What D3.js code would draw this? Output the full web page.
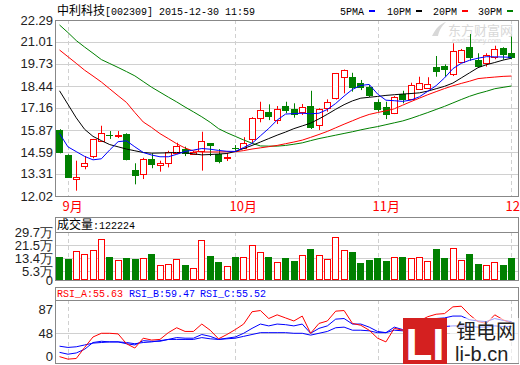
<!DOCTYPE html>
<html>
<head>
<meta charset="utf-8">
<script src="https://cdn.jsdelivr.net/npm/d3@7"></script>
<style>
body { margin: 0; background: #fff; }
text { font-family: "Liberation Sans", Arial, sans-serif; }
</style>
</head>
<body>
<script>
var title = '中利科技';
var titleInfo = '[002309] 2015-12-30 11:59';

var opens  = [15.87,14.41,12.99,13.77,14.34,15.23,15.60,15.56,15.64,13.54,13.30,14.16,13.83,13.93,14.57,14.74,14.51,14.66,15.10,14.47,14.26,14.84,14.80,15.35,16.55,16.90,16.41,17.27,17.10,16.94,17.27,16.16,17.14,17.70,18.95,18.95,18.60,18.40,17.52,17.20,16.85,17.97,17.70,18.30,18.30,19.57,19.61,19.12,19.86,20.70,19.98,19.80,20.11,20.64,20.35];
var highs  = [15.92,14.45,14.08,14.35,15.35,16.12,15.81,15.81,15.68,13.93,14.25,14.51,14.08,14.66,15.13,14.90,14.65,15.77,15.10,14.76,14.51,14.99,15.45,16.62,17.52,17.37,17.27,17.52,17.43,17.39,18.16,17.14,17.66,19.20,19.40,19.21,18.79,18.50,17.66,17.52,17.85,18.16,18.63,18.98,18.95,20.19,19.70,20.93,20.60,21.47,20.35,20.35,20.79,20.70,21.32];
var lows   = [14.51,13.09,12.33,13.58,14.22,15.20,15.35,15.40,14.10,12.70,13.01,13.64,13.44,13.69,14.55,14.35,14.45,13.50,14.35,13.93,14.06,14.66,14.78,15.10,16.32,16.45,16.22,16.85,16.59,16.75,15.93,15.87,16.94,17.65,18.01,18.11,18.20,17.80,16.94,16.51,16.80,17.43,17.68,18.28,18.28,18.98,18.98,19.02,19.80,19.92,19.55,19.57,20.00,19.98,20.00];
var closes = [14.51,13.09,13.11,13.93,15.35,15.68,15.56,15.60,14.12,13.19,14.20,13.79,13.96,14.57,14.96,14.45,14.60,15.25,14.90,14.02,14.30,14.80,15.10,16.59,17.04,16.59,17.08,17.00,16.75,17.23,15.97,17.08,17.49,19.18,19.37,18.30,18.30,17.86,17.04,16.75,17.81,17.62,18.50,18.63,18.56,19.27,19.37,20.48,20.54,20.06,19.59,20.25,20.58,20.25,20.06];

var ma5  = [15.67,14.89,14.61,14.33,14.13,14.19,14.71,15.19,15.24,14.89,14.56,14.41,14.31,14.31,14.45,14.62,14.70,14.79,14.75,14.68,14.63,14.62,14.85,15.09,15.53,15.96,16.45,16.80,16.83,16.85,16.82,16.85,17.07,17.42,17.85,18.24,18.47,18.53,17.97,17.61,17.58,17.54,17.62,17.81,18.13,18.46,18.91,19.45,19.76,19.94,20.06,20.15,20.14,20.13,20.11];
var ma10 = [18.16,17.37,16.58,15.91,15.50,15.25,15.02,14.89,14.76,14.66,14.56,14.52,14.53,14.54,14.56,14.54,14.48,14.42,14.44,14.47,14.50,14.62,14.79,14.97,15.17,15.37,15.57,15.75,15.95,16.11,16.27,16.52,16.79,17.08,17.35,17.57,17.73,17.78,17.83,17.89,17.93,17.97,18.00,18.04,18.14,18.28,18.42,18.61,18.91,19.21,19.51,19.68,19.81,19.95,20.06];
var ma20 = [20.54,20.15,19.76,19.36,19.02,18.67,18.27,17.87,17.48,16.89,16.34,16.02,15.66,15.37,15.07,14.82,14.65,14.59,14.59,14.59,14.60,14.60,14.67,14.76,14.83,14.90,14.97,15.07,15.17,15.28,15.44,15.61,15.79,16.00,16.21,16.41,16.61,16.78,16.89,16.99,17.11,17.32,17.53,17.73,17.93,18.11,18.29,18.45,18.59,18.72,18.87,18.92,18.96,19.00,19.02];
var ma30 = [22.00,21.56,21.09,20.71,20.35,19.98,19.75,19.52,19.28,19.03,18.70,18.37,18.08,17.79,17.51,17.21,16.93,16.64,16.32,15.95,15.71,15.50,15.29,15.10,14.94,14.93,14.93,14.97,15.04,15.12,15.25,15.37,15.47,15.57,15.67,15.77,15.88,15.98,16.07,16.18,16.29,16.40,16.55,16.72,16.89,17.07,17.25,17.45,17.65,17.84,18.00,18.13,18.28,18.36,18.44];

// 成交量, 万
var vols = [14.4,13.2,18.0,16.1,18.6,25.4,14.4,12.4,13.8,13.2,13.6,16.3,9.3,9.9,13.0,9.5,7.4,24.8,15.0,11.3,8.7,14.4,14.2,21.7,17.3,14.4,11.0,13.8,11.9,15.5,19.4,15.5,13.2,26.6,18.6,17.5,10.7,12.6,13.8,11.9,14.2,14.4,13.6,14.2,11.8,19.4,13.8,19.8,12.4,16.3,10.1,9.3,11.0,9.5,13.8];

var rsiA = [10,6,7,25,42,48,48,47,31,24,40,37,38,49,57,51,51,63,53,39,46,54,63,83,85,72,78,73,68,76,48,64,68,84,85,64,61,53,40,34,56,53,60,68,75,79,80,91,92,78,67,64,78,70,64];
var rsiB = [17,14,16,22,33,35,34,34,31,29,36,35,35,38,41,40,40,46,43,38,40,42,48,56,63,60,63,62,60,63,48,56,60,71,72,63,63,58,51,49,58,54,60,64,68,72,73,76,76,70,68,67,72,69,67];
var rsiC = [27,25,26,29,32,33,34,34,33,31,33,34,36,38,38,38,38,41,39,38,39,40,43,46,49,49,49,49,48,48,45,48,51,57,58,53,53,52,49,49,53,52,54,56,57,58,59,60,60,59,58,58,60,59,59];

var priceTicks = [22.29,21.01,19.73,18.44,17.16,15.87,14.59,13.31,12.02];
var volTicks = [29.7,21.5,13.4,5.3,0];
var rsiTicks = [87,48,0];
var monthLabels = ['9月','10月','11月','12月'];
var monthIdx = [1,21,38,54];

var RED = '#ff0000', GREEN = '#008000', BLUE = '#0000ff', GRID = '#d0d0d0', FRAME = '#888';
var L = 55, R = 519;

var svg = d3.select('body').append('svg').attr('width', 520).attr('height', 365);

var x = d3.scaleBand().domain(d3.range(opens.length)).range([54.5, 516.5]).padding(0.2);
var cx = function(i) { return x(i) + x.bandwidth() / 2; };
var px = function(v) { return Math.round(v) + 0.5; };

var yP = d3.scaleLinear().domain([12.02, 22.29]).range([196, 20]);
var yV = d3.scaleLinear().domain([0, 29.7]).range([280, 232]);
var yR = d3.scaleLinear().domain([0, 87]).range([362.8, 309.3]);

// header
var head = svg.append('text').attr('x', 57).attr('y', 15).attr('font-size', 12).attr('fill', '#000');
head.append('tspan').style('font-family', '"Noto Sans CJK SC"').text(title);
head.append('tspan').style('font-family', '"Liberation Mono", monospace').attr('font-size', 10).text(titleInfo);

var legend = [['5PMA', BLUE, 340], ['10PM', '#000', 387], ['20PM', RED, 433], ['30PM', GREEN, 478]];
legend.forEach(function(d) {
  svg.append('text').attr('x', d[2]).attr('y', 15).attr('font-size', 10)
    .style('font-family', '"Liberation Mono", monospace').text(d[0]);
  svg.append('rect').attr('x', d[2] + 29).attr('y', 10).attr('width', 6).attr('height', 2).attr('fill', d[1]);
});

// watermark
var wm = svg.append('g').attr('fill', '#d8d8d8');
wm.append('path').attr('d', 'M432,36 C436,28 440,24 446,22 C441,27 439,31 438,36 Z');
wm.append('text').attr('x', 448).attr('y', 35).attr('font-size', 13)
  .style('font-family', '"Noto Sans CJK SC"').text('东方财富网');
wm.append('text').attr('x', 452).attr('y', 43).attr('font-size', 7).text('eastmoney.com');

// grids
var gridH = function(scale, ticks) {
  svg.append('g').selectAll('line').data(ticks).enter().append('line')
    .attr('x1', L).attr('x2', R)
    .attr('y1', function(d) { return px(scale(d)); })
    .attr('y2', function(d) { return px(scale(d)); })
    .attr('stroke', GRID);
};
gridH(yP, priceTicks.slice(1, -1));
gridH(yV, volTicks.slice(1, -1));
gridH(yR, [48]);

var gridV = function(y1, y2) {
  svg.append('g').selectAll('line').data(monthIdx).enter().append('line')
    .attr('x1', function(d) { return px(cx(d)); })
    .attr('x2', function(d) { return px(cx(d)); })
    .attr('y1', y1).attr('y2', y2)
    .attr('stroke', GRID).attr('stroke-dasharray', '4,3');
};
gridV(20, 196);
gridV(232, 280);
gridV(300, 364);

// frames
var frame = function(y1, y2, sep) {
  svg.append('rect').attr('x', L + 0.5).attr('y', y1 + 0.5).attr('width', R - L - 1).attr('height', y2 - y1)
    .attr('fill', 'none').attr('stroke', FRAME);
  if (sep) svg.append('line').attr('x1', L).attr('x2', R).attr('y1', sep + 0.5).attr('y2', sep + 0.5).attr('stroke', FRAME);
};
frame(20, 196);
frame(217, 280, 232);
frame(287, 363, 300);

// axis labels
var yLabels = function(scale, ticks, fmt) {
  svg.append('g').selectAll('text').data(ticks).enter().append('text')
    .attr('x', 53).attr('y', function(d) { return Math.min(scale(d), 356); })
    .attr('dy', '0.35em').attr('text-anchor', 'end').attr('font-size', 13).attr('fill', '#222')
    .text(fmt);
};
yLabels(yP, priceTicks, function(d) { return d.toFixed(2); });
yLabels(yV, volTicks, function(d) { return d === 0 ? '0' : d + '万'; });
yLabels(yR, rsiTicks, function(d) { return d; });

svg.append('g').selectAll('text').data(monthIdx).enter().append('text')
  .attr('x', function(d) { return px(cx(d)) - 6; }).attr('y', 211)
  .attr('font-size', 13).attr('fill', RED).style('font-family', '"Noto Sans CJK SC"')
  .text(function(d, i) { return monthLabels[i]; });

// candles
var up = function(i) { return closes[i] >= opens[i]; };
var candles = svg.append('g').selectAll('g').data(opens).enter().append('g');
candles.append('line')
  .attr('x1', function(d, i) { return px(cx(i)); })
  .attr('x2', function(d, i) { return px(cx(i)); })
  .attr('y1', function(d, i) { return yP(highs[i]); })
  .attr('y2', function(d, i) { return yP(lows[i]); })
  .attr('stroke', function(d, i) { return up(i) ? RED : GREEN; });
candles.append('rect')
  .attr('x', function(d, i) { return up(i) ? px(x(i)) : Math.round(x(i)); })
  .attr('y', function(d, i) { return Math.round(yP(Math.max(opens[i], closes[i]))) + (up(i) ? 0.5 : 0); })
  .attr('width', function(d, i) { return up(i) ? 6 : 7; })
  .attr('height', function(d, i) { return Math.max(1, Math.round(Math.abs(yP(opens[i]) - yP(closes[i])))); })
  .attr('fill', function(d, i) { return up(i) ? '#fff' : GREEN; })
  .attr('stroke', function(d, i) { return up(i) ? RED : 'none'; });

// moving averages
var priceLine = d3.line().x(function(d, i) { return cx(i); }).y(function(d) { return yP(d); });
[[ma30, GREEN], [ma20, RED], [ma10, '#000'], [ma5, BLUE]].forEach(function(m) {
  svg.append('path').attr('d', priceLine(m[0])).attr('fill', 'none').attr('stroke', m[1]).attr('stroke-width', 1);
});

// volume
var vHead = svg.append('text').attr('x', 57).attr('y', 229).attr('font-size', 12);
vHead.append('tspan').style('font-family', '"Noto Sans CJK SC"').text('成交量');
vHead.append('tspan').style('font-family', '"Liberation Mono", monospace').attr('font-size', 10).text(':122224');

svg.append('g').selectAll('rect').data(vols).enter().append('rect')
  .attr('x', function(d, i) { return up(i) ? px(x(i)) : Math.round(x(i)); })
  .attr('y', function(d, i) { return Math.round(yV(d)) + (up(i) ? 0.5 : 0); })
  .attr('width', function(d, i) { return up(i) ? 6 : 7; })
  .attr('height', function(d, i) { return 280 - Math.round(yV(d)) - (up(i) ? 1 : 0); })
  .attr('fill', function(d, i) { return up(i) ? '#fff' : GREEN; })
  .attr('stroke', function(d, i) { return up(i) ? RED : 'none'; });

// RSI
var rsiHead = svg.append('text').attr('y', 297).attr('font-size', 10).style('font-family', '"Liberation Mono", monospace');
rsiHead.append('tspan').attr('x', 57).attr('fill', RED).text('RSI_A:55.63');
rsiHead.append('tspan').attr('x', 129).attr('fill', BLUE).text('RSI_B:59.47');
rsiHead.append('tspan').attr('x', 200).attr('fill', BLUE).text('RSI_C:55.52');

var rsiLine = d3.line().x(function(d, i) { return cx(i); }).y(function(d) { return yR(d); });
[[rsiC, BLUE], [rsiB, BLUE], [rsiA, RED]].forEach(function(m) {
  svg.append('path').attr('d', rsiLine(m[0])).attr('fill', 'none').attr('stroke', m[1]).attr('stroke-width', 1);
});

// li-b.cn logo
var logo = svg.append('g');
logo.append('rect').attr('x', 403).attr('y', 318).attr('width', 44).attr('height', 46).attr('fill', '#d42020');
logo.append('text').attr('x', 425).attr('y', 360).attr('text-anchor', 'middle').attr('font-size', 44)
  .attr('font-weight', 'bold').attr('fill', '#fff').text('LI');
logo.append('rect').attr('x', 450).attr('y', 318).attr('width', 69).attr('height', 45).attr('fill', '#fff').attr('opacity', 0.6);
logo.append('text').attr('x', 456).attr('y', 339).attr('font-size', 20).style('font-family', '"Noto Sans CJK SC"')
  .attr('fill', '#222').text('锂电网');
logo.append('text').attr('x', 455).attr('y', 361).attr('font-size', 20).attr('fill', '#222').text('li-b.cn');
</script>
</body>
</html>
